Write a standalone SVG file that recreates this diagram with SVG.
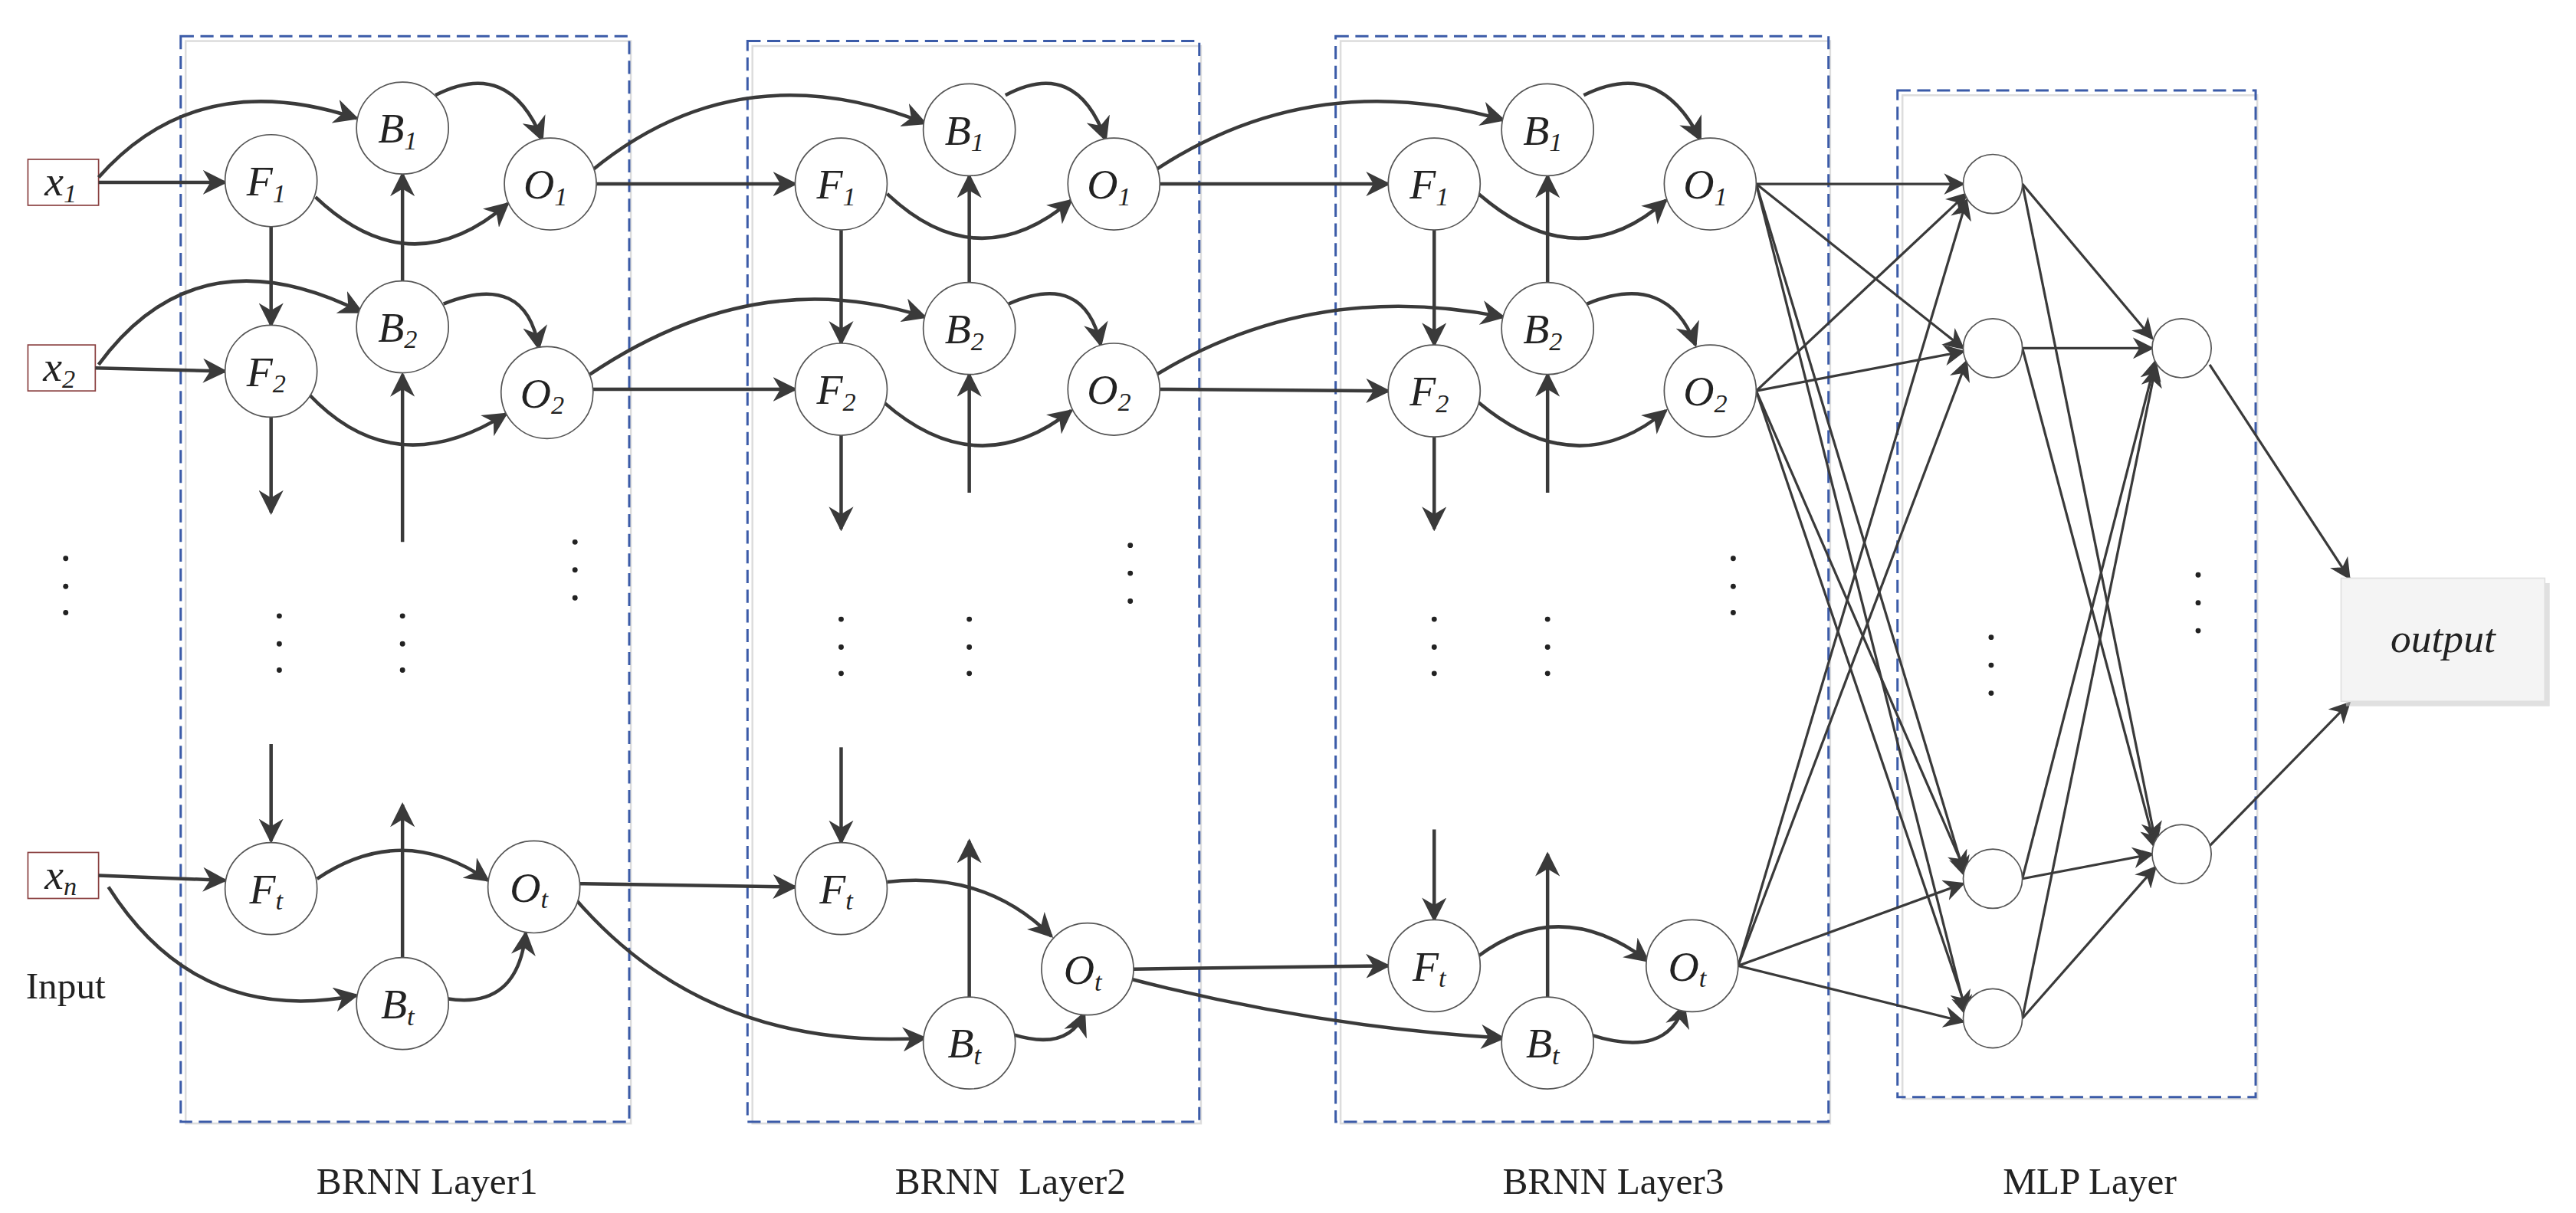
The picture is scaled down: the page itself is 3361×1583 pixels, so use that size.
<svg xmlns="http://www.w3.org/2000/svg" width="3361" height="1583" viewBox="0 0 3361 1583">
<defs>
<marker id="ah" viewBox="0 0 10 10" refX="9" refY="5" markerWidth="15" markerHeight="15" markerUnits="userSpaceOnUse" orient="auto"><path d="M0,0 L10,5 L0,10 L3,5 z" fill="#3a3a3a"/></marker>
<marker id="ah2" viewBox="0 0 10 10" refX="9" refY="5" markerWidth="13" markerHeight="13" markerUnits="userSpaceOnUse" orient="auto"><path d="M0,0 L10,5 L0,10 L3,5 z" fill="#3a3a3a"/></marker>
<style>
.n circle{fill:#fff;stroke:#555;stroke-width:0.8}
.n text{font-family:"Liberation Serif",serif;font-style:italic;font-size:26px;text-anchor:middle;fill:#222}
.sub{font-size:16px}
.in rect{fill:#fff;stroke:#8a4040;stroke-width:0.8}
.c path{fill:none;stroke:#3a3a3a;stroke-width:2.1;marker-end:url(#ah)}
.m path{fill:none;stroke:#3a3a3a;stroke-width:1.5;marker-end:url(#ah2)}
.box{fill:none;stroke:#3b5ba8;stroke-width:1.4;stroke-dasharray:8,4}
.sh{fill:none;stroke:#ddd;stroke-width:1.2}
.lbl{font-family:"Liberation Serif",serif;font-size:23px;text-anchor:middle;fill:#222}
.dot{fill:#222}
</style>
</defs>
<rect width="3361" height="1583" fill="#fff"/>
<g transform="scale(2.1435)">
<g id="frames">
<rect class="sh" x="113" y="25" width="271" height="659"/><rect class="box" x="110" y="22" width="273" height="661"/>
<rect class="sh" x="458" y="28" width="273" height="656"/><rect class="box" x="455" y="25" width="275" height="658"/>
<rect class="sh" x="816" y="25" width="298" height="659"/><rect class="box" x="813" y="22" width="300" height="661"/>
<rect class="sh" x="1158" y="58" width="216" height="611"/><rect class="box" x="1155" y="55" width="218" height="613"/>
</g>
<g id="inputs" class="n in">
<g id="x1"><rect x="17" y="97" width="43" height="28"/><text x="37" y="119">x<tspan class="sub" dy="4">1</tspan></text></g>
<g id="x2"><rect x="17" y="210" width="41" height="28"/><text x="36" y="232">x<tspan class="sub" dy="4">2</tspan></text></g>
<g id="xn"><rect x="17" y="519" width="43" height="28"/><text x="37" y="541">x<tspan class="sub" dy="4">n</tspan></text></g>
</g>
<g id="connectors">
<g class="c">
<path d="M60,108 Q120,40 217,72"/><path d="M60,111 L137,111"/><path d="M192,120 Q250,175 309,124"/><path d="M265,58 Q310,35 330,85"/>
<path d="M165,138 L165,198"/><path d="M245,171 L245,106"/><path d="M60,222 Q120,140 220,190"/><path d="M58,224 L137,226"/>
<path d="M188,240 Q240,295 308,252"/><path d="M270,185 Q320,165 328,212"/><path d="M165,254 L165,312"/><path d="M245,330 L245,228"/>
<path d="M165,453 L165,512"/><path d="M60,533 L137,536"/><path d="M66,540 Q120,625 217,606"/><path d="M193,535 Q245,500 297,536"/>
<path d="M245,583 L245,490"/><path d="M272,608 Q315,615 320,568"/>
<path d="M363,112 L484,112"/><path d="M360,104 Q450,30 563,75"/><path d="M361,237 L484,237"/><path d="M359,228 Q460,160 563,193"/>
<path d="M353,538 L484,540"/><path d="M350,547 Q430,640 563,632"/>
<path d="M540,118 Q595,170 652,122"/><path d="M612,58 Q655,35 673,85"/><path d="M512,140 L512,209"/><path d="M590,172 L590,107"/>
<path d="M538,245 Q595,295 652,250"/><path d="M614,185 Q660,165 670,210"/><path d="M512,265 L512,322"/><path d="M590,300 L590,228"/>
<path d="M512,455 L512,513"/><path d="M540,537 Q600,530 640,570"/><path d="M590,607 L590,512"/><path d="M617,630 Q650,640 660,617"/>
<path d="M706,112 L845,112"/><path d="M704,103 Q800,40 915,73"/><path d="M706,237 L845,238"/><path d="M704,228 Q800,170 915,193"/>
<path d="M690,590 L845,588"/><path d="M688,596 Q800,625 915,632"/>
<path d="M900,118 Q960,170 1014,122"/><path d="M964,58 Q1010,35 1035,85"/><path d="M873,140 L873,210"/><path d="M942,172 L942,107"/>
<path d="M900,245 Q960,295 1014,250"/><path d="M966,185 Q1015,165 1032,210"/><path d="M873,266 L873,322"/><path d="M942,300 L942,228"/>
<path d="M873,505 L873,560"/><path d="M900,582 Q950,545 1003,585"/><path d="M942,607 L942,520"/><path d="M968,630 Q1015,645 1025,612"/>
</g>
<g class="m">
<path d="M1069,112 L1195,112"/><path d="M1069,112 L1195,212"/><path d="M1069,112 L1196,533"/><path d="M1069,112 L1197,618"/>
<path d="M1069,238 L1197,118"/><path d="M1069,238 L1195,214"/><path d="M1069,238 L1196,530"/><path d="M1069,238 L1197,615"/>
<path d="M1058,588 L1197,122"/><path d="M1058,588 L1197,220"/><path d="M1058,588 L1195,538"/><path d="M1058,588 L1195,622"/>
<path d="M1231,112 L1310,206"/><path d="M1231,112 L1312,512"/><path d="M1231,212 L1310,212"/><path d="M1231,212 L1312,516"/>
<path d="M1231,535 L1312,220"/><path d="M1231,535 L1310,520"/><path d="M1231,620 L1312,224"/><path d="M1231,620 L1312,528"/>
<path d="M1345,222 L1430,352"/><path d="M1345,515 L1430,428"/>
</g>
</g>
<g id="layer1" class="n">
<g id="L1F1"><circle cx="165" cy="110" r="28"/><text x="162" y="119">F<tspan class="sub" dy="4">1</tspan></text></g>
<g id="L1B1"><circle cx="245" cy="78" r="28"/><text x="242" y="87">B<tspan class="sub" dy="4">1</tspan></text></g>
<g id="L1O1"><circle cx="335" cy="112" r="28"/><text x="332" y="121">O<tspan class="sub" dy="4">1</tspan></text></g>
<g id="L1F2"><circle cx="165" cy="226" r="28"/><text x="162" y="235">F<tspan class="sub" dy="4">2</tspan></text></g>
<g id="L1B2"><circle cx="245" cy="199" r="28"/><text x="242" y="208">B<tspan class="sub" dy="4">2</tspan></text></g>
<g id="L1O2"><circle cx="333" cy="239" r="28"/><text x="330" y="248">O<tspan class="sub" dy="4">2</tspan></text></g>
<g id="L1Ft"><circle cx="165" cy="541" r="28"/><text x="162" y="550">F<tspan class="sub" dy="4">t</tspan></text></g>
<g id="L1Bt"><circle cx="245" cy="611" r="28"/><text x="242" y="620">B<tspan class="sub" dy="4">t</tspan></text></g>
<g id="L1Ot"><circle cx="325" cy="540" r="28"/><text x="322" y="549">O<tspan class="sub" dy="4">t</tspan></text></g>
</g>
<g id="layer2" class="n">
<g id="L2F1"><circle cx="512" cy="112" r="28"/><text x="509" y="121">F<tspan class="sub" dy="4">1</tspan></text></g>
<g id="L2B1"><circle cx="590" cy="79" r="28"/><text x="587" y="88">B<tspan class="sub" dy="4">1</tspan></text></g>
<g id="L2O1"><circle cx="678" cy="112" r="28"/><text x="675" y="121">O<tspan class="sub" dy="4">1</tspan></text></g>
<g id="L2F2"><circle cx="512" cy="237" r="28"/><text x="509" y="246">F<tspan class="sub" dy="4">2</tspan></text></g>
<g id="L2B2"><circle cx="590" cy="200" r="28"/><text x="587" y="209">B<tspan class="sub" dy="4">2</tspan></text></g>
<g id="L2O2"><circle cx="678" cy="237" r="28"/><text x="675" y="246">O<tspan class="sub" dy="4">2</tspan></text></g>
<g id="L2Ft"><circle cx="512" cy="541" r="28"/><text x="509" y="550">F<tspan class="sub" dy="4">t</tspan></text></g>
<g id="L2Bt"><circle cx="590" cy="635" r="28"/><text x="587" y="644">B<tspan class="sub" dy="4">t</tspan></text></g>
<g id="L2Ot"><circle cx="662" cy="590" r="28"/><text x="659" y="599">O<tspan class="sub" dy="4">t</tspan></text></g>
</g>
<g id="layer3" class="n">
<g id="L3F1"><circle cx="873" cy="112" r="28"/><text x="870" y="121">F<tspan class="sub" dy="4">1</tspan></text></g>
<g id="L3B1"><circle cx="942" cy="79" r="28"/><text x="939" y="88">B<tspan class="sub" dy="4">1</tspan></text></g>
<g id="L3O1"><circle cx="1041" cy="112" r="28"/><text x="1038" y="121">O<tspan class="sub" dy="4">1</tspan></text></g>
<g id="L3F2"><circle cx="873" cy="238" r="28"/><text x="870" y="247">F<tspan class="sub" dy="4">2</tspan></text></g>
<g id="L3B2"><circle cx="942" cy="200" r="28"/><text x="939" y="209">B<tspan class="sub" dy="4">2</tspan></text></g>
<g id="L3O2"><circle cx="1041" cy="238" r="28"/><text x="1038" y="247">O<tspan class="sub" dy="4">2</tspan></text></g>
<g id="L3Ft"><circle cx="873" cy="588" r="28"/><text x="870" y="597">F<tspan class="sub" dy="4">t</tspan></text></g>
<g id="L3Bt"><circle cx="942" cy="635" r="28"/><text x="939" y="644">B<tspan class="sub" dy="4">t</tspan></text></g>
<g id="L3Ot"><circle cx="1030" cy="588" r="28"/><text x="1027" y="597">O<tspan class="sub" dy="4">t</tspan></text></g>
</g>
<g id="mlp" class="n">
<g id="H1"><circle cx="1213" cy="112" r="18"/></g>
<g id="H2"><circle cx="1213" cy="212" r="18"/></g>
<g id="H3"><circle cx="1213" cy="535" r="18"/></g>
<g id="H4"><circle cx="1213" cy="620" r="18"/></g>
<g id="G1"><circle cx="1328" cy="212" r="18"/></g>
<g id="G2"><circle cx="1328" cy="520" r="18"/></g>
</g>
<g id="output">
<rect x="1428" y="355" width="124" height="75" fill="#ccc" opacity="0.6"/>
<rect x="1425" y="352" width="124" height="75" fill="#f4f4f4" stroke="#e0e0e0" stroke-width="0.8"/>
<text x="1487" y="397" style="font-family:'Liberation Serif',serif;font-style:italic;font-size:25px;text-anchor:middle;fill:#222">output</text>
</g>
<g id="dots" class="dot">
<circle cx="40" cy="340" r="1.6"/><circle cx="40" cy="357" r="1.6"/><circle cx="40" cy="373" r="1.6"/>
<circle cx="170" cy="375" r="1.6"/><circle cx="170" cy="392" r="1.6"/><circle cx="170" cy="408" r="1.6"/>
<circle cx="245" cy="375" r="1.6"/><circle cx="245" cy="392" r="1.6"/><circle cx="245" cy="408" r="1.6"/>
<circle cx="350" cy="330" r="1.6"/><circle cx="350" cy="347" r="1.6"/><circle cx="350" cy="364" r="1.6"/>
<circle cx="512" cy="377" r="1.6"/><circle cx="512" cy="394" r="1.6"/><circle cx="512" cy="410" r="1.6"/>
<circle cx="590" cy="377" r="1.6"/><circle cx="590" cy="394" r="1.6"/><circle cx="590" cy="410" r="1.6"/>
<circle cx="688" cy="332" r="1.6"/><circle cx="688" cy="349" r="1.6"/><circle cx="688" cy="366" r="1.6"/>
<circle cx="873" cy="377" r="1.6"/><circle cx="873" cy="394" r="1.6"/><circle cx="873" cy="410" r="1.6"/>
<circle cx="942" cy="377" r="1.6"/><circle cx="942" cy="394" r="1.6"/><circle cx="942" cy="410" r="1.6"/>
<circle cx="1055" cy="340" r="1.6"/><circle cx="1055" cy="357" r="1.6"/><circle cx="1055" cy="373" r="1.6"/>
<circle cx="1212" cy="388" r="1.6"/><circle cx="1212" cy="405" r="1.6"/><circle cx="1212" cy="422" r="1.6"/>
<circle cx="1338" cy="350" r="1.6"/><circle cx="1338" cy="367" r="1.6"/><circle cx="1338" cy="384" r="1.6"/>
</g>
<g id="labels" class="lbl">
<text x="40" y="608" style="font-family:'Liberation Serif',serif;font-size:23px;text-anchor:middle">Input</text>
<text x="260" y="727" class="lbl">BRNN Layer1</text>
<text x="615" y="727" class="lbl" xml:space="preserve">BRNN  Layer2</text>
<text x="982" y="727" class="lbl">BRNN Layer3</text>
<text x="1272" y="727" class="lbl">MLP Layer</text>
</g>
</g>
</svg>
